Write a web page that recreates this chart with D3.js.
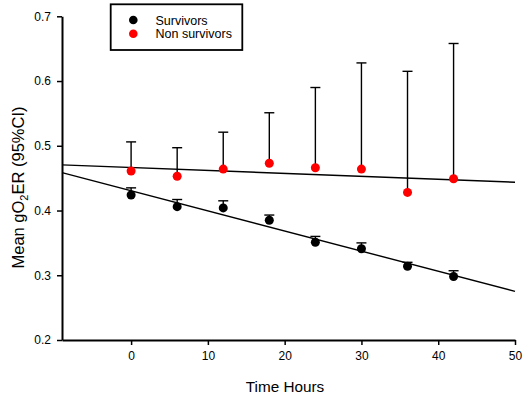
<!DOCTYPE html>
<html><head><meta charset="utf-8">
<script src="https://cdn.jsdelivr.net/npm/d3@7"></script>
<style>body{margin:0;background:#fff;} svg{display:block;font-family:Arial,"Liberation Sans",sans-serif;}</style>
</head><body>
<svg id="c" width="523" height="395"></svg>
<script>
const hours = [0, 6, 12, 18, 24, 30, 36, 42];
const survivorsMean = [0.424, 0.406, 0.404, 0.385, 0.351, 0.341, 0.314, 0.298];
const survivorsUpper = [0.435, 0.417, 0.415, 0.393, 0.360, 0.350, 0.320, 0.307];
const nonSurvivorsMean = [0.461, 0.453, 0.464, 0.473, 0.466, 0.464, 0.428, 0.449];
const nonSurvivorsUpper = [0.506, 0.497, 0.521, 0.551, 0.590, 0.628, 0.615, 0.658];
const seriesNames = ["Survivors", "Non survivors"];
const seriesColors = ["#000000", "#ff0000"];
const fitIntercept = [0.4306, 0.4664];
const fitSlope = [-0.00311, -0.000453];
const xTicks = [0, 10, 20, 30, 40, 50];
const yTicks = [0.2, 0.3, 0.4, 0.5, 0.6, 0.7];
const xDomain = [-9, 50];
const yDomain = [0.2, 0.7];

const svg = d3.select("#c");
const x = d3.scaleLinear().domain(xDomain).range([62, 515]);
const y = d3.scaleLinear().domain(yDomain).range([340, 16.3]);

// axes
const xAxis = svg.append("g").attr("transform", "translate(0,340)")
  .call(d3.axisBottom(x).tickValues(xTicks).tickFormat(d3.format("d")).tickSizeOuter(0).tickSizeInner(5).tickPadding(6));
const yAxis = svg.append("g").attr("transform", "translate(62,0)")
  .call(d3.axisLeft(y).tickValues(yTicks).tickFormat(d3.format(".1f")).tickSizeOuter(0).tickSizeInner(5).tickPadding(6));
[xAxis, yAxis].forEach(a => {
  a.select(".domain").attr("stroke", "#000").attr("stroke-width", 2);
  a.selectAll(".tick line").attr("stroke", "#000").attr("stroke-width", 1.5);
  a.selectAll(".tick text").attr("font-size", 12).attr("fill", "#000")
   .attr("font-family", "Arial, 'Liberation Sans', sans-serif");
});

// fit lines
const series = [
  {mean: survivorsMean, upper: survivorsUpper},
  {mean: nonSurvivorsMean, upper: nonSurvivorsUpper}
];
series.forEach((s, i) => {
  svg.append("line")
    .attr("x1", x(xDomain[0])).attr("y1", y(fitIntercept[i] + fitSlope[i] * xDomain[0]))
    .attr("x2", x(xDomain[1])).attr("y2", y(fitIntercept[i] + fitSlope[i] * xDomain[1]))
    .attr("stroke", "#000").attr("stroke-width", 1.4);
});

// error bars + dots
series.forEach((s, i) => {
  const g = svg.append("g");
  hours.forEach((h, j) => {
    g.append("line").attr("x1", x(h)).attr("x2", x(h))
      .attr("y1", y(s.mean[j])).attr("y2", y(s.upper[j]))
      .attr("stroke", "#000").attr("stroke-width", 1.4);
    g.append("line").attr("x1", x(h) - 5).attr("x2", x(h) + 5)
      .attr("y1", y(s.upper[j])).attr("y2", y(s.upper[j]))
      .attr("stroke", "#000").attr("stroke-width", 1.4);
  });
  g.selectAll("circle").data(hours).join("circle")
    .attr("cx", d => x(d)).attr("cy", (d, j) => y(s.mean[j]))
    .attr("r", 4.5).attr("fill", seriesColors[i]);
});

// legend
const lg = svg.append("g");
lg.append("rect").attr("x", 110.7).attr("y", 4.3).attr("width", 131.6).attr("height", 45.7)
  .attr("fill", "#fff").attr("stroke", "#000").attr("stroke-width", 1.8);
seriesNames.forEach((n, i) => {
  lg.append("circle").attr("cx", 133.3).attr("cy", 20 + i * 13.7).attr("r", 4.3).attr("fill", seriesColors[i]);
  lg.append("text").attr("x", 155.5).attr("y", 20 + i * 13.7).attr("dy", "0.36em")
    .attr("font-size", 12.5).attr("fill", "#000").text(n);
});

// axis titles
svg.append("text").attr("x", 285).attr("y", 386.5).attr("dy", "0.35em")
  .attr("text-anchor", "middle").attr("font-size", 15.3).attr("fill", "#000").text("Time Hours");
const yt = svg.append("text").attr("transform", "translate(24,187.5) rotate(-90)")
  .attr("text-anchor", "middle").attr("font-size", 16.5).attr("fill", "#000");
yt.append("tspan").text("Mean gO");
yt.append("tspan").attr("font-size", 11).attr("dy", 4).text("2");
yt.append("tspan").attr("dy", -4).text("ER (95%CI)");
</script>
</body></html>
